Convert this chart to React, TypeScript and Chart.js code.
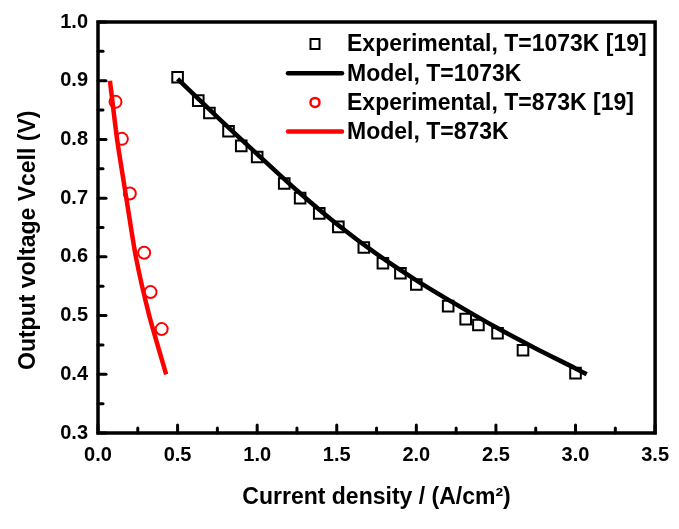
import React, { useEffect, useRef } from "react";
import { Chart, registerables } from "chart.js";

Chart.register(...registerables);

// ---- data ----
const expHighX = [0.50, 0.63, 0.70, 0.82, 0.90, 1.00, 1.17, 1.27, 1.39, 1.51, 1.67, 1.79, 1.90, 2.00, 2.20, 2.31, 2.39, 2.51, 2.67, 3.00];
const expHighY = [0.906, 0.866, 0.845, 0.814, 0.789, 0.770, 0.725, 0.700, 0.674, 0.651, 0.616, 0.589, 0.572, 0.553, 0.516, 0.494, 0.484, 0.470, 0.441, 0.402];

const modelHighX = [0.50, 0.75, 1.00, 1.25, 1.50, 1.75, 2.00, 2.25, 2.50, 2.75, 3.00, 3.07];
const modelHighY = [0.903, 0.838, 0.775, 0.713, 0.656, 0.605, 0.560, 0.519, 0.480, 0.444, 0.410, 0.400];

const expLowX = [0.11, 0.15, 0.20, 0.29, 0.33, 0.40];
const expLowY = [0.864, 0.801, 0.708, 0.607, 0.540, 0.477];

const modelLowX = [0.075, 0.12, 0.178, 0.238, 0.322, 0.428];
const modelLowY = [0.90, 0.80, 0.70, 0.60, 0.50, 0.40];

const xMajorTicks = [0, 0.5, 1.0, 1.5, 2.0, 2.5, 3.0, 3.5];
const yMajorTicks = [0.3, 0.4, 0.5, 0.6, 0.7, 0.8, 0.9, 1.0];

const legendLabels = [
  "Experimental, T=1073K [19]",
  "Model, T=1073K",
  "Experimental, T=873K [19]",
  "Model, T=873K",
];

const xTitle = "Current density / (A/cm\u00B2)";
const yTitle = "Output voltage Vcell (V)    ";

const FONT = "'Liberation Sans', Arial, sans-serif";

const zip = (xs: number[], ys: number[]) => xs.map((x, i) => ({ x, y: ys[i] }));

const framePlugin = {
  id: "frame",
  afterDraw(chart: any) {
    const { ctx, chartArea } = chart;
    const { left, right, top, bottom } = chartArea;
    const xs = chart.scales.x;
    const ys = chart.scales.y;
    ctx.save();
    ctx.strokeStyle = "#000";
    ctx.lineWidth = 3.5;
    ctx.strokeRect(left, top, right - left, bottom - top);
    ctx.lineWidth = 3;
    ctx.lineCap = "round";
    for (let i = 0; i < xMajorTicks.length; i++) {
      const v = xMajorTicks[i];
      const px = xs.getPixelForValue(v);
      ctx.beginPath();
      ctx.moveTo(px, bottom);
      ctx.lineTo(px, bottom - 8);
      ctx.stroke();
      if (i < xMajorTicks.length - 1) {
        const m = (v + xMajorTicks[i + 1]) / 2;
        const pm = xs.getPixelForValue(m);
        ctx.beginPath();
        ctx.moveTo(pm, bottom);
        ctx.lineTo(pm, bottom - 5);
        ctx.stroke();
      }
    }
    for (let i = 0; i < yMajorTicks.length; i++) {
      const v = yMajorTicks[i];
      const py = ys.getPixelForValue(v);
      ctx.beginPath();
      ctx.moveTo(left, py);
      ctx.lineTo(left + 8, py);
      ctx.stroke();
      if (i < yMajorTicks.length - 1) {
        const m = (v + yMajorTicks[i + 1]) / 2;
        const pm = ys.getPixelForValue(m);
        ctx.beginPath();
        ctx.moveTo(left, pm);
        ctx.lineTo(left + 5, pm);
        ctx.stroke();
      }
    }
    ctx.restore();
  },
};

const legendPlugin = {
  id: "insideLegend",
  afterDraw(chart: any) {
    const { ctx, chartArea } = chart;
    const symX = chartArea.left + 217;
    const textX = chartArea.left + 249;
    const rowY0 = chartArea.top + 22;
    const rowH = 29.2;
    ctx.save();
    chart.data.datasets.forEach((ds: any, row: number) => {
      const y = rowY0 + row * rowH;
      if (ds.showLine) {
        ctx.strokeStyle = ds.borderColor;
        ctx.lineWidth = 4.5;
        ctx.lineCap = "round";
        ctx.beginPath();
        ctx.moveTo(symX - 27, y);
        ctx.lineTo(symX + 27, y);
        ctx.stroke();
      } else if (ds.pointStyle === "rect") {
        ctx.fillStyle = "#fff";
        ctx.strokeStyle = ds.borderColor;
        ctx.lineWidth = 2;
        ctx.beginPath();
        ctx.rect(symX - 4.5, y - 5, 9, 10);
        ctx.fill();
        ctx.stroke();
      } else {
        ctx.fillStyle = "#fff";
        ctx.strokeStyle = ds.borderColor;
        ctx.lineWidth = 2.5;
        ctx.beginPath();
        ctx.arc(symX, y, 4.5, 0, Math.PI * 2);
        ctx.fill();
        ctx.stroke();
      }
      ctx.fillStyle = "#000";
      ctx.font = `bold 23px ${FONT}`;
      ctx.textAlign = "left";
      ctx.textBaseline = "middle";
      ctx.fillText(ds.label, textX, y + 1);
    });
    ctx.restore();
  },
};

export default function App() {
  const ref = useRef<HTMLCanvasElement | null>(null);

  useEffect(() => {
    if (!ref.current) return;
    const tickFont = { family: FONT, size: 20, weight: "bold" as const };
    const titleFont = { family: FONT, size: 23, weight: "bold" as const };
    const chart = new Chart(ref.current, {
      type: "scatter",
      data: {
        datasets: [
          {
            label: legendLabels[0],
            data: zip(expHighX, expHighY),
            showLine: false,
            pointStyle: "rect",
            pointRadius: 7.5,
            pointBorderWidth: 2,
            borderColor: "#000",
            backgroundColor: "#fff",
            order: 2,
          },
          {
            label: legendLabels[1],
            data: zip(modelHighX, modelHighY),
            showLine: true,
            borderColor: "#000",
            borderWidth: 4.5,
            pointRadius: 0,
            tension: 0.3,
            order: 1,
          },
          {
            label: legendLabels[2],
            data: zip(expLowX, expLowY),
            showLine: false,
            pointStyle: "circle",
            pointRadius: 6,
            pointBorderWidth: 2,
            borderColor: "#ff0000",
            backgroundColor: "#fff",
            order: 2,
          },
          {
            label: legendLabels[3],
            data: zip(modelLowX, modelLowY),
            showLine: true,
            borderColor: "#ff0000",
            borderWidth: 4.5,
            pointRadius: 0,
            tension: 0.2,
            order: 1,
          },
        ],
      } as any,
      options: {
        responsive: false,
        animation: false,
        layout: { padding: { top: 21, right: 21, left: 0, bottom: 0 } },
        plugins: {
          legend: { display: false },
          tooltip: { enabled: false },
        },
        scales: {
          x: {
            type: "linear",
            min: 0,
            max: 3.5,
            grid: { display: false, drawTicks: false },
            border: { display: false },
            ticks: {
              stepSize: 0.5,
              autoSkip: false,
              maxRotation: 0,
              padding: 10,
              color: "#000",
              font: tickFont,
              callback: (v: any) => Number(v).toFixed(1),
            },
            title: {
              display: true,
              text: xTitle,
              color: "#000",
              font: titleFont,
              padding: { top: 0, bottom: 18 },
            },
            afterFit(s: any) {
              s.height = 96;
            },
          },
          y: {
            type: "linear",
            min: 0.3,
            max: 1.0,
            grid: { display: false, drawTicks: false },
            border: { display: false },
            ticks: {
              stepSize: 0.1,
              autoSkip: false,
              padding: 10,
              color: "#000",
              font: tickFont,
              callback: (v: any) => Number(v).toFixed(1),
            },
            title: {
              display: true,
              text: yTitle,
              color: "#000",
              font: titleFont,
              padding: { top: 15, bottom: 0 },
            },
            afterFit(s: any) {
              s.width = 98;
            },
          },
        },
      } as any,
      plugins: [framePlugin, legendPlugin],
    });
    return () => chart.destroy();
  }, []);

  return (
    <div style={{ position: "absolute", left: 0, top: 0, width: 679, height: 529, background: "#fff" }}>
      <canvas ref={ref} width={679} height={529} style={{ width: 679, height: 529, display: "block" }} />
    </div>
  );
}
